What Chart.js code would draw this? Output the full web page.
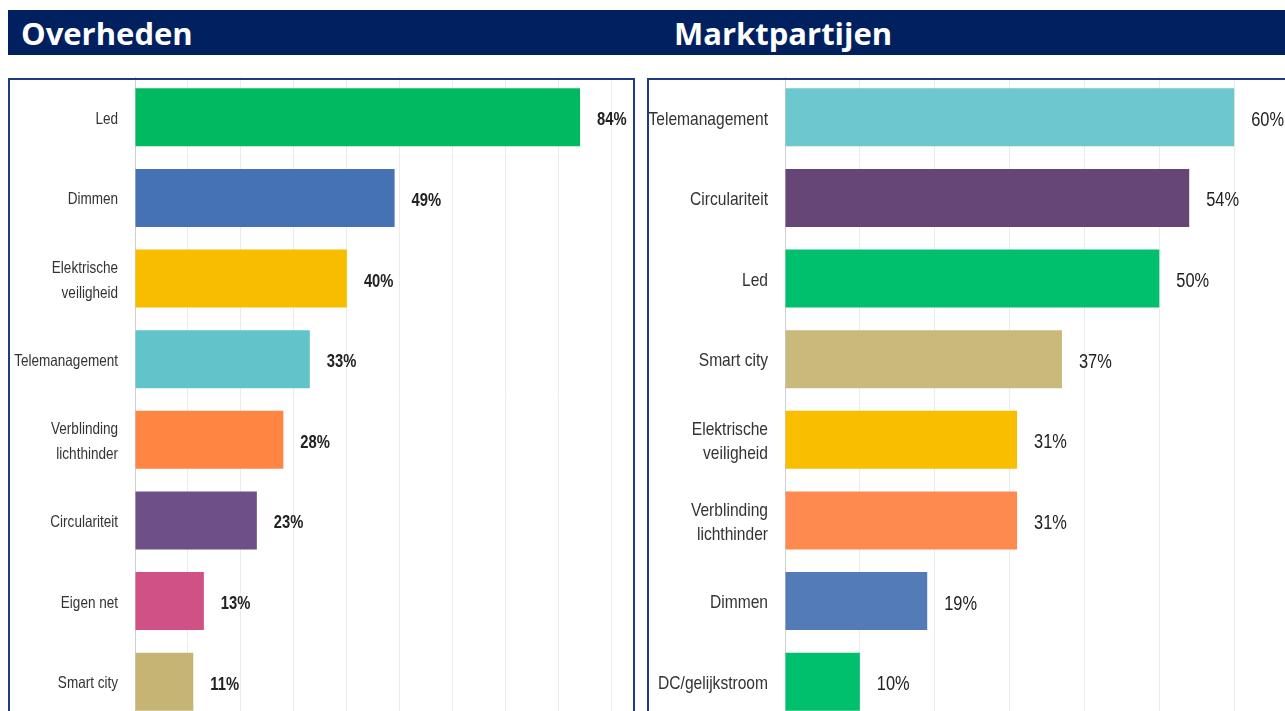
<!DOCTYPE html>
<html>
<head>
<meta charset="utf-8">
<script src="https://cdn.jsdelivr.net/npm/chart.js@4.4.1/dist/chart.umd.min.js"></script>
<style>
  html, body { margin: 0; padding: 0; background: #fff; overflow: hidden; width: 1285px; height: 711px; }
  .kop { position: absolute; top: 10px; height: 45px; left: 8px; width: 1277px; background: #002060; }
  .kop span { position: absolute; top: 2px; color: #fff; font: bold 31px "Open Sans", sans-serif; }
  .paneel { position: absolute; top: 78px; height: 660px; border: 2px solid #1c3a86; box-sizing: border-box; pointer-events: none; }
  canvas { position: absolute; }
</style>
</head>
<body>
<div class="kop"><span style="left:13px">Overheden</span><span style="left:666px">Marktpartijen</span></div>
<canvas id="links" width="623" height="645" style="left:10px; top:77px"></canvas>
<canvas id="rechts" width="660" height="645" style="left:649px; top:77px"></canvas>
<div class="paneel" style="left:8px; width:627px"></div>
<div class="paneel" style="left:647px; width:660px"></div>
<script>
// Overheden
var overhedenLabels = ["Led", "Dimmen", ["Elektrische", "veiligheid"], "Telemanagement", ["Verblinding", "lichthinder"], "Circulariteit", "Eigen net", "Smart city"];
var overhedenWaarden = [84, 49, 40, 33, 28, 23, 13, 11];
var overhedenKleuren = ["#00ba61", "#4472b4", "#f9bd00", "#62c4cb", "#ff8542", "#6f4f87", "#d05186", "#c5b473"];

// Marktpartijen
var marktLabels = ["Telemanagement", "Circulariteit", "Led", "Smart city", ["Elektrische", "veiligheid"], ["Verblinding", "lichthinder"], "Dimmen", "DC/gelijkstroom"];
var marktWaarden = [60, 54, 50, 37, 31, 31, 19, 10];
var marktKleuren = ["#6cc7ce", "#654677", "#00c06e", "#c9b97b", "#f9be00", "#ff8a50", "#527bb8", "#00c06e"];

var SMAL = 0.82; // smalle letter, zoals een condensed font

function smalleTekst(ctx, tekst, x, y) {
  ctx.save();
  ctx.translate(x, y);
  ctx.scale(SMAL, 1);
  ctx.fillText(tekst, 0, 0);
  ctx.restore();
}

var teksten = {
  id: "teksten",
  afterDatasetsDraw: function(chart, args, opts) {
    var ctx = chart.ctx;
    var yas = chart.scales.y;
    var meta = chart.getDatasetMeta(0);
    ctx.save();
    ctx.textBaseline = "middle";
    // categorie labels
    ctx.font = opts.labelFont;
    ctx.fillStyle = "#333";
    ctx.textAlign = "right";
    chart.data.labels.forEach(function(l, i) {
      var regels = Array.isArray(l) ? l : [l];
      var yc = yas.getPixelForTick(i) + 2;
      var y0 = yc - (regels.length - 1) * opts.regelHoogte / 2;
      regels.forEach(function(r, j) {
        smalleTekst(ctx, r, chart.chartArea.left - 17, y0 + j * opts.regelHoogte);
      });
    });
    // waarden
    ctx.font = opts.waardeFont;
    ctx.fillStyle = "#222";
    ctx.textAlign = "left";
    meta.data.forEach(function(bar, i) {
      smalleTekst(ctx, chart.data.datasets[0].data[i] + "%", bar.x + 17, bar.y + 3);
    });
    ctx.restore();
  }
};

function maakGrafiek(id, labels, waarden, kleuren, max, asBreedte, tekstOpties) {
  return new Chart(document.getElementById(id), {
    type: "bar",
    data: {
      labels: labels,
      datasets: [{
        data: waarden,
        backgroundColor: kleuren,
        borderWidth: 0,
        barPercentage: 0.72,
        categoryPercentage: 1
      }]
    },
    options: {
      indexAxis: "y",
      responsive: false,
      animation: false,
      layout: { padding: 0 },
      plugins: {
        legend: { display: false },
        tooltip: { enabled: false },
        teksten: tekstOpties
      },
      scales: {
        x: {
          min: 0,
          max: max,
          afterBuildTicks: function(scale) {
            scale.ticks = scale.ticks.filter(function(t) { return t.value % 10 === 0; });
          },
          ticks: { display: false, stepSize: 10 },
          grid: {
            drawTicks: false,
            color: function(c) { return c.tick && c.tick.value === 0 ? "#cfcfcf" : "#ebebeb"; }
          },
          border: { display: false }
        },
        y: {
          afterFit: function(scale) { scale.width = asBreedte; },
          grid: { display: false, drawTicks: false },
          border: { display: false },
          ticks: { display: false }
        }
      }
    },
    plugins: [teksten]
  });
}

maakGrafiek("links", overhedenLabels, overhedenWaarden, overhedenKleuren, 94, 125, {
  labelFont: "16.5px 'Liberation Sans', Arial, sans-serif",
  regelHoogte: 25,
  waardeFont: "bold 18px 'Liberation Sans', Arial, sans-serif"
});
maakGrafiek("rechts", marktLabels, marktWaarden, marktKleuren, 70, 136, {
  labelFont: "19px 'Liberation Sans', Arial, sans-serif",
  regelHoogte: 24,
  waardeFont: "20px 'Liberation Sans', Arial, sans-serif"
});
</script>
</body>
</html>
